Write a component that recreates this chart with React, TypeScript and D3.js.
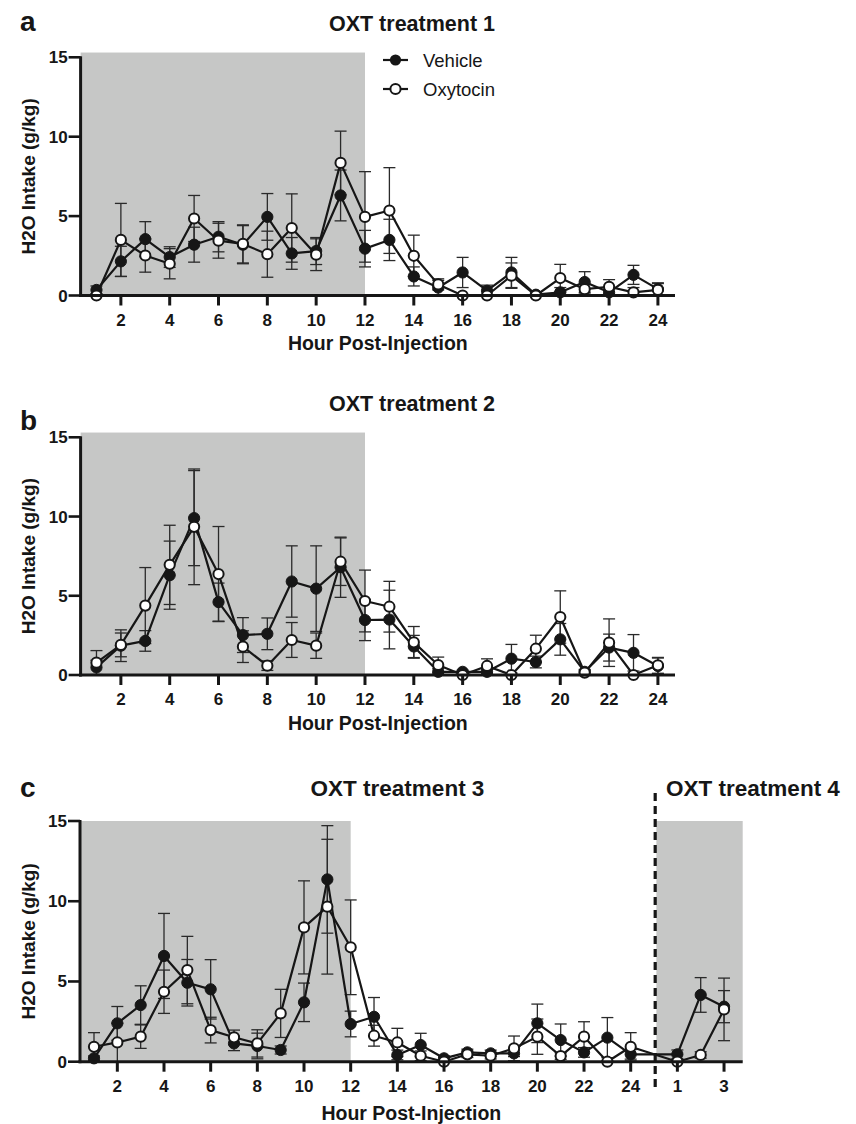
import React from "react";
import * as d3 from "d3";

// hours post-injection (x categories)
const hours = [1, 2, 3, 4, 5, 6, 7, 8, 9, 10, 11, 12, 13, 14, 15, 16, 17, 18, 19, 20, 21, 22, 23, 24];
const t4Hours = [1, 2, 3];
const evenTicks = [2, 4, 6, 8, 10, 12, 14, 16, 18, 20, 22, 24];
const t4Ticks = [1, 3];
const yTicks = [0, 5, 10, 15];

// panel a - OXT treatment 1
const aVehicle = [0.35, 2.15, 3.55, 2.42, 3.2, 3.7, 3.2, 4.95, 2.65, 2.8, 6.3, 2.95, 3.5, 1.2, 0.5, 1.45, 0.3, 1.45, 0.05, 0.2, 0.85, 0.2, 1.3, 0.4];
const aVehicleSem = [0.25, 0.95, 1.1, 0.65, 1.1, 0.95, 1.2, 1.47, 1.0, 0.85, 1.6, 1.15, 1.3, 0.6, 0.45, 0.95, 0.35, 0.95, 0.1, 0.3, 0.65, 0.3, 0.6, 0.4];
const aOxytocin = [0.0, 3.5, 2.52, 2.0, 4.85, 3.45, 3.25, 2.6, 4.25, 2.57, 8.35, 4.95, 5.35, 2.5, 0.7, 0.0, 0.0, 1.25, 0.0, 1.1, 0.4, 0.55, 0.2, 0.35];
const aOxytocinSem = [0.1, 2.3, 1.05, 0.95, 1.45, 1.1, 1.2, 1.45, 2.15, 1.0, 2.0, 2.85, 2.7, 1.3, 0.35, 0.05, 0.05, 0.8, 0.05, 0.86, 0.3, 0.45, 0.3, 0.4];

// panel b - OXT treatment 2
const bVehicle = [0.48, 1.85, 2.15, 6.3, 9.9, 4.6, 2.52, 2.6, 5.9, 5.45, 6.8, 3.47, 3.5, 1.8, 0.2, 0.2, 0.2, 1.03, 0.82, 2.25, 0.2, 1.73, 1.4, 0.57];
const bVehicleSem = [0.45, 1.0, 0.65, 2.15, 3.0, 1.2, 1.1, 1.0, 2.25, 2.7, 1.9, 1.3, 1.85, 0.7, 0.2, 0.1, 0.15, 0.9, 0.37, 1.0, 0.15, 0.85, 1.15, 0.5];
const bOxytocin = [0.78, 1.9, 4.38, 6.95, 9.35, 6.37, 1.79, 0.59, 2.21, 1.85, 7.15, 4.67, 4.31, 2.06, 0.63, 0.0, 0.57, 0.0, 1.66, 3.66, 0.15, 2.04, 0.0, 0.61];
const bOxytocinSem = [0.76, 0.75, 2.4, 2.5, 3.65, 3.0, 1.0, 0.3, 1.1, 0.8, 1.5, 1.95, 1.6, 1.0, 0.5, 0.05, 0.45, 0.05, 0.85, 1.65, 0.15, 1.5, 0.05, 0.5];

// panel c - OXT treatment 3, then treatment 4 (hours 1-3)
const cVehicle = [0.21, 2.39, 3.53, 6.59, 4.92, 4.51, 1.14, 0.98, 0.73, 3.7, 11.36, 2.35, 2.8, 0.42, 1.04, 0.21, 0.58, 0.52, 0.52, 2.39, 1.35, 0.58, 1.5, 0.46];
const cVehicleSem = [0.15, 1.05, 1.2, 2.65, 1.45, 1.85, 0.45, 0.8, 0.25, 1.2, 3.35, 0.8, 1.2, 0.3, 0.73, 0.15, 0.2, 0.2, 0.2, 1.2, 1.0, 0.3, 1.25, 0.3];
const cOxytocin = [0.93, 1.2, 1.56, 4.36, 5.71, 1.97, 1.52, 1.14, 3.01, 8.37, 9.66, 7.13, 1.62, 1.2, 0.37, 0.0, 0.46, 0.37, 0.83, 1.56, 0.35, 1.56, 0.0, 0.93];
const cOxytocinSem = [0.88, 1.2, 0.73, 1.35, 2.1, 0.8, 0.45, 0.85, 1.5, 2.9, 4.2, 2.95, 0.65, 0.88, 0.3, 0.05, 0.2, 0.2, 0.77, 1.1, 0.2, 0.93, 0.05, 0.88];
const t4Vehicle = [0.46, 4.16, 3.43];
const t4VehicleSem = [0.27, 1.08, 1.0];
const t4Oxytocin = [0.0, 0.42, 3.26];
const t4OxytocinSem = [0.05, 0.2, 1.95];

const FONT = "'Liberation Sans', Arial, Helvetica, sans-serif";
const INK = "#161616";
const SHADE = "#c6c7c6";
const T4_OFFSET = 25; // treatment 4 hours sit after hour 24 on the shared axis

type Pt = { x: number; v: number; s: number };

const toPoints = (xs: number[], vals: number[], sems: number[]): Pt[] =>
  xs.map((x, i) => ({ x, v: vals[i], s: sems[i] }));

function Series({ pts, x, y, filled }: { pts: Pt[]; x: any; y: any; filled: boolean }) {
  const line = d3.line<Pt>().x(d => x(d.x)).y(d => y(d.v));
  return (
    <g>
      <path d={line(pts) || ""} fill="none" stroke={INK} strokeWidth={2.2} strokeLinejoin="round" />
    </g>
  );
}

function ErrorBars({ pts, x, y }: { pts: Pt[]; x: any; y: any }) {
  return (
    <g stroke="#2a2a2a" strokeWidth={1.3}>
      {pts.map((d, i) => {
        const cx = x(d.x);
        const hi = y(d.v + d.s);
        const lo = y(Math.max(0, d.v - d.s));
        return (
          <g key={i}>
            <line x1={cx} x2={cx} y1={hi} y2={lo} />
            <line x1={cx - 6} x2={cx + 6} y1={hi} y2={hi} />
            <line x1={cx - 6} x2={cx + 6} y1={lo} y2={lo} />
          </g>
        );
      })}
    </g>
  );
}

function Markers({ pts, x, y, filled }: { pts: Pt[]; x: any; y: any; filled: boolean }) {
  return (
    <g>
      {pts.map((d, i) => (
        <circle key={i} cx={x(d.x)} cy={y(d.v)} r={filled ? 5.6 : 5.1}
          fill={filled ? INK : "#fff"} stroke={INK} strokeWidth={filled ? 1 : 2} />
      ))}
    </g>
  );
}

type PanelProps = {
  letter: string;
  letterY: number;
  titles: { text: string; at: number; size: number }[];
  titleY: number;
  xDomain: [number, number];
  xRange: [number, number];
  yRange: [number, number];
  shadeTop: number;
  shades: [number, number][];
  vehicle: Pt[];
  oxytocin: Pt[];
  ticks: { at: number; label: string }[];
  tickFont: number;
  xLabelY: number;
  dashAt?: number;
  legend?: boolean;
};

function Panel(p: PanelProps) {
  const x = d3.scaleLinear().domain(p.xDomain).range(p.xRange);
  const y = d3.scaleLinear().domain([0, 15]).range(p.yRange);
  const [x0, x1] = p.xRange;
  const y0 = y(0);
  const yMid = (y(0) + y(15)) / 2;
  return (
    <g fontFamily={FONT}>
      <text x={20} y={p.letterY} fontSize={28} fontWeight="bold" fill={INK}>{p.letter}</text>
      {p.titles.map((t, i) => (
        <text key={i} x={t.at} y={p.titleY} fontSize={t.size} fontWeight="bold" textAnchor="middle" fill={INK}>{t.text}</text>
      ))}

      {p.shades.map(([a, b], i) => (
        <rect key={i} x={x(a)} y={y(p.shadeTop)} width={x(b) - x(a)} height={y0 - y(p.shadeTop)} fill={SHADE} />
      ))}

      <ErrorBars pts={p.vehicle} x={x} y={y} />
      <ErrorBars pts={p.oxytocin} x={x} y={y} />
      <Series pts={p.vehicle} x={x} y={y} filled />
      <Series pts={p.oxytocin} x={x} y={y} filled={false} />
      <Markers pts={p.vehicle} x={x} y={y} filled />
      <Markers pts={p.oxytocin} x={x} y={y} filled={false} />

      {/* y axis */}
      <line x1={x0} x2={x0} y1={y(15) - 1} y2={y0 + 1.5} stroke={INK} strokeWidth={3} />
      {yTicks.map(t => (
        <g key={t}>
          <line x1={x0 - 12} x2={x0} y1={y(t)} y2={y(t)} stroke={INK} strokeWidth={2.6} />
          <text x={x0 - 13} y={y(t) + 6} fontSize={p.tickFont} fontWeight="bold" textAnchor="end" fill={INK}>{t}</text>
        </g>
      ))}
      <text transform={`translate(35,${yMid}) rotate(-90)`} fontSize={19} fontWeight="bold" textAnchor="middle" fill={INK}>
        H2O Intake (g/kg)
      </text>

      {/* x axis */}
      <line x1={x0 - 1.5} x2={x1} y1={y0} y2={y0} stroke={INK} strokeWidth={3} />
      {p.ticks.map((t, i) => (
        <g key={i}>
          <line x1={x(t.at)} x2={x(t.at)} y1={y0} y2={y0 + 10} stroke={INK} strokeWidth={3} />
          <text x={x(t.at)} y={y0 + 30} fontSize={p.tickFont} fontWeight="bold" textAnchor="middle" fill={INK}>{t.label}</text>
        </g>
      ))}
      <text x={(x0 + x1) / 2} y={p.xLabelY} fontSize={19.5} fontWeight="bold" textAnchor="middle" fill={INK}>
        Hour Post-Injection
      </text>

      {p.dashAt !== undefined && (
        <line x1={x(p.dashAt)} x2={x(p.dashAt)} y1={y(15) - 28} y2={y0 + 26}
          stroke={INK} strokeWidth={3.2} strokeDasharray="8 5" />
      )}

      {p.legend && (
        <g>
          <line x1={383} x2={408} y1={60} y2={60} stroke={INK} strokeWidth={2.2} />
          <circle cx={395.5} cy={60} r={5.6} fill={INK} />
          <text x={423} y={67} fontSize={18.5} fill={INK}>Vehicle</text>
          <line x1={383} x2={408} y1={89} y2={89} stroke={INK} strokeWidth={2.2} />
          <circle cx={395.5} cy={89} r={5.1} fill="#fff" stroke={INK} strokeWidth={2} />
          <text x={423} y={96} fontSize={18.5} fill={INK}>Oxytocin</text>
        </g>
      )}
    </g>
  );
}

export default function App() {
  const abTicks = evenTicks.map(h => ({ at: h, label: String(h) }));
  const cTicks = [
    ...abTicks,
    ...t4Ticks.map(h => ({ at: h + T4_OFFSET, label: String(h) })),
  ];
  const t4x = t4Hours.map(h => h + T4_OFFSET);
  const cVeh = [...toPoints(hours, cVehicle, cVehicleSem), ...toPoints(t4x, t4Vehicle, t4VehicleSem)];
  const cOxy = [...toPoints(hours, cOxytocin, cOxytocinSem), ...toPoints(t4x, t4Oxytocin, t4OxytocinSem)];

  return (
    <svg width={856} height={1124} style={{ position: "absolute", left: 0, top: 0, background: "#fff" }}>
      <rect width={856} height={1124} fill="#fff" />
      <Panel
        letter="a" letterY={31}
        titles={[{ text: "OXT treatment 1", at: 412, size: 21.5 }]} titleY={31}
        xDomain={[0.35, 24.7]} xRange={[80.6, 675]} yRange={[295.5, 57.3]}
        shadeTop={15.3} shades={[[0.35, 12]]}
        vehicle={toPoints(hours, aVehicle, aVehicleSem)}
        oxytocin={toPoints(hours, aOxytocin, aOxytocinSem)}
        ticks={abTicks} tickFont={17} xLabelY={350} legend
      />
      <Panel
        letter="b" letterY={430}
        titles={[{ text: "OXT treatment 2", at: 412, size: 21.5 }]} titleY={411}
        xDomain={[0.35, 24.7]} xRange={[80.6, 675]} yRange={[675, 437.3]}
        shadeTop={15.3} shades={[[0.35, 12]]}
        vehicle={toPoints(hours, bVehicle, bVehicleSem)}
        oxytocin={toPoints(hours, bOxytocin, bOxytocinSem)}
        ticks={abTicks} tickFont={17} xLabelY={730}
      />
      <Panel
        letter="c" letterY={797}
        titles={[
          { text: "OXT treatment 3", at: 397.5, size: 22.5 },
          { text: "OXT treatment 4", at: 753, size: 22.5 },
        ]} titleY={796}
        xDomain={[0.4, 28.8]} xRange={[80, 742.7]} yRange={[1061.7, 821]}
        shadeTop={15} shades={[[0.4, 12], [25.1, 28.8]]}
        vehicle={cVeh} oxytocin={cOxy}
        ticks={cTicks} tickFont={17} xLabelY={1120} dashAt={25.05}
      />
    </svg>
  );
}
